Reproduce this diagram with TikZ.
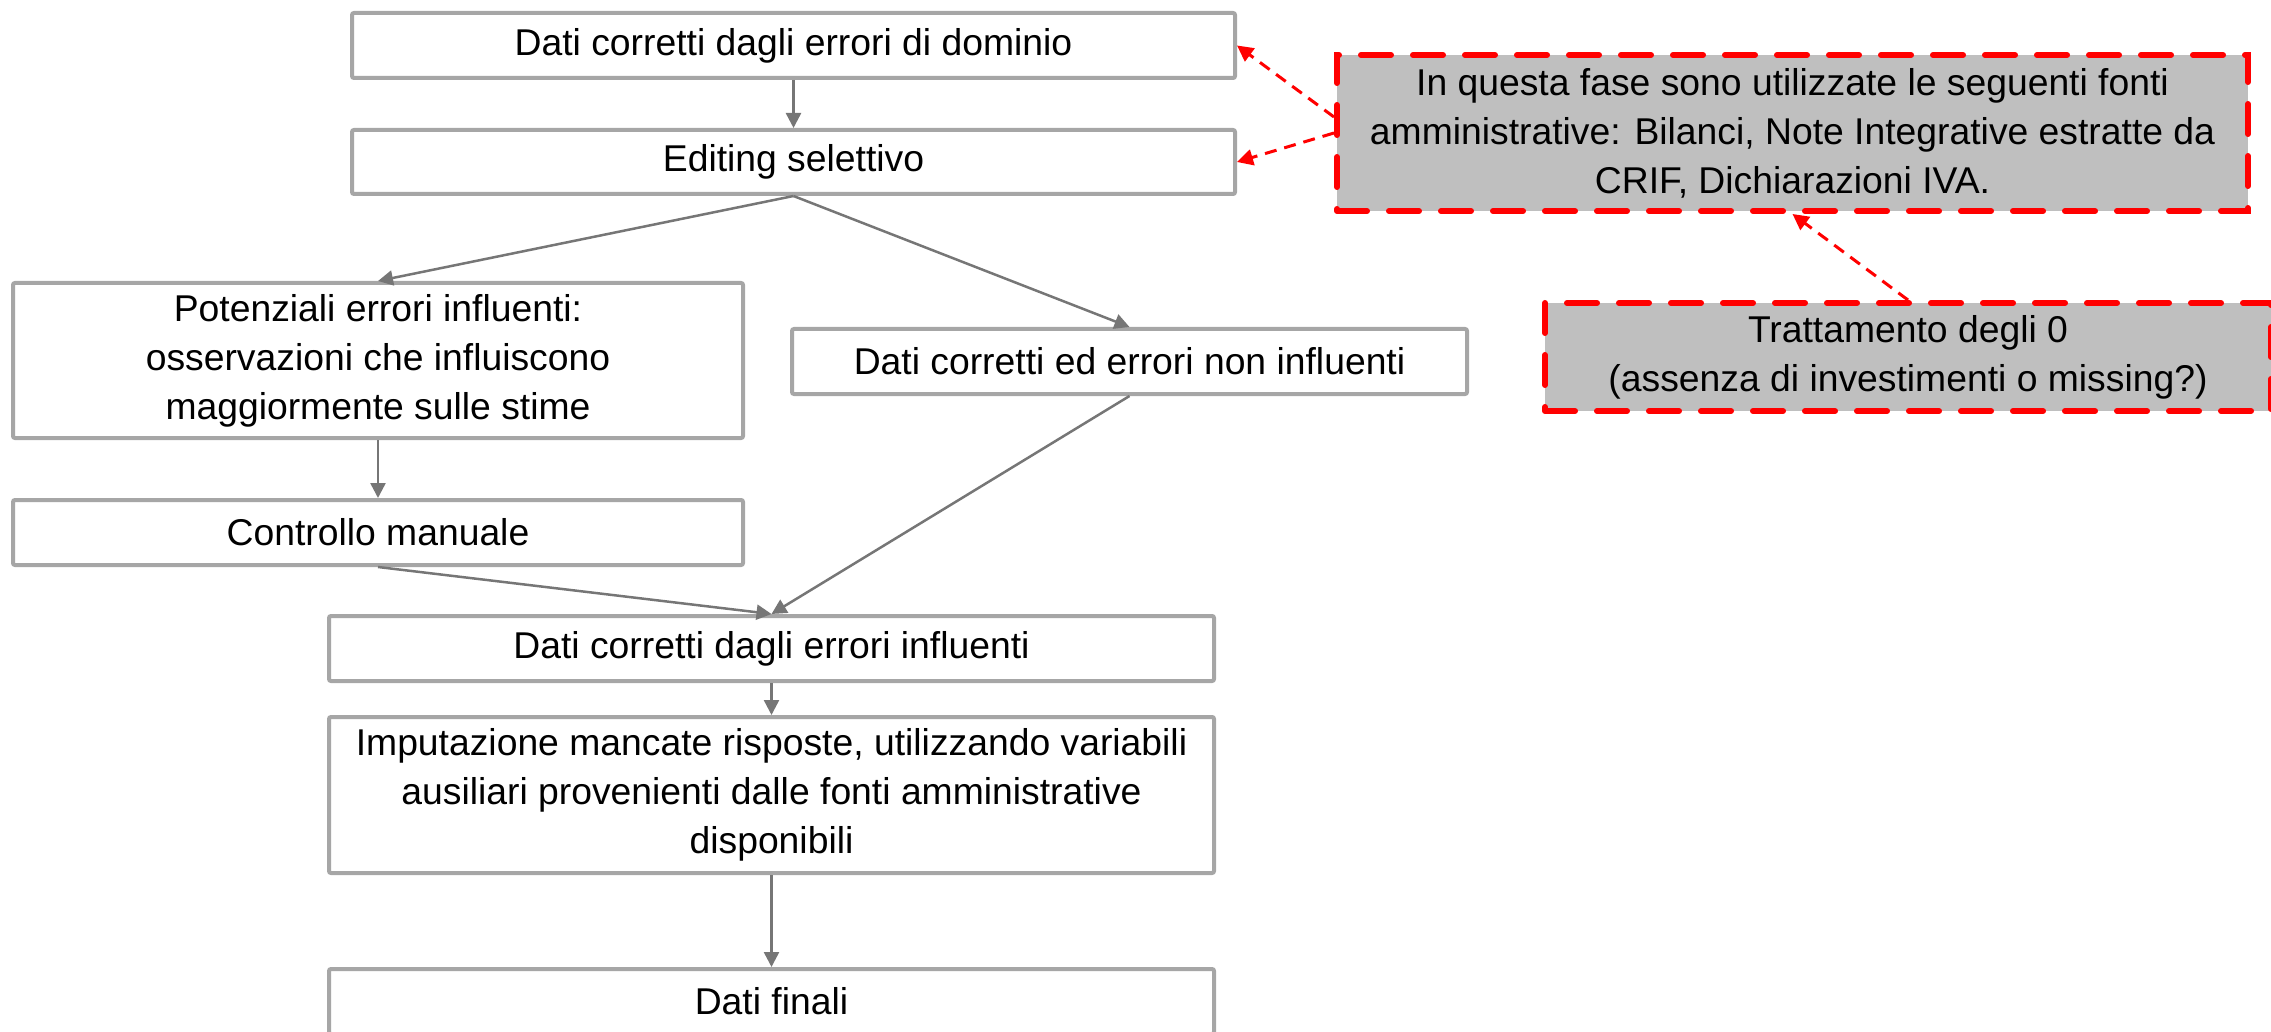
\documentclass[tikz,border=0pt]{standalone}
\usepackage{fontspec}
\setmainfont{Liberation Sans}
\usetikzlibrary{arrows.meta}
\definecolor{boxgray}{RGB}{166,166,166}
\definecolor{arrowgray}{RGB}{118,118,118}
\definecolor{notefill}{RGB}{191,191,191}
\begin{document}
\begin{tikzpicture}[x=1pt,y=-1pt,
        font=\fontsize{18.65pt}{24.5pt}\selectfont,
        box/.style={draw=boxgray,line width=2pt,rounded corners=1pt,fill=white,inner sep=0pt,align=center},
        note/.style={draw=red,fill=notefill,line width=3pt,dash pattern=on 15pt off 11pt,line cap=round,inner sep=0pt,align=center},
        flow/.style={draw=arrowgray,line width=1.25pt,-{Triangle[length=7.5pt,width=7.5pt]}},
        link/.style={draw=red,line width=1.5pt,dash pattern=on 6pt off 4pt,-{Triangle[length=8pt,width=8pt]}}]
        \useasboundingbox (0,0) rectangle (1135.5,516);
        %Shape: flow boxes
        \node [box,minimum width=441.5pt,minimum height=32.5pt] (dom) at (396.75,22.75) {Dati corretti dagli errori di dominio};
        \node [box,minimum width=441.5pt,minimum height=32pt] (edit) at (396.75,81) {Editing selettivo};
        \node [box,minimum width=365pt,minimum height=77.5pt] (pot) at (189,180.25) {Potenziali errori influenti:\\osservazioni che influiscono\\maggiormente sulle stime};
        \node [box,minimum width=337.5pt,minimum height=32.5pt] (ninf) at (564.75,180.75) {Dati corretti ed errori non influenti};
        \node [box,minimum width=365pt,minimum height=32.5pt] (man) at (189,266.25) {Controllo manuale};
        \node [box,minimum width=442.5pt,minimum height=32.5pt] (inf) at (385.75,324.25) {Dati corretti dagli errori influenti};
        \node [box,minimum width=442.5pt,minimum height=78pt] (imp) at (385.75,397.5) {Imputazione mancate risposte, utilizzando variabili\\ausiliari provenienti dalle fonti amministrative\\disponibili};
        \node [box,minimum width=442.5pt,minimum height=32.5pt] (fin) at (385.75,500.75) {Dati finali};
        %Shape: notes
        \node [note,minimum width=455.5pt,minimum height=78pt] (fonti) at (896.25,66.5) {In questa fase sono utilizzate le seguenti fonti\\amministrative: Bilanci, Note Integrative estratte da\\CRIF, Dichiarazioni IVA.};
        \node [note,minimum width=363pt,minimum height=54pt] (zero) at (954,178.5) {Trattamento degli 0\\(assenza di investimenti o missing?)};
        
        % Connectors
        \draw [flow] (dom.south) -- (edit.north);
        \draw [flow] (edit.south) -- (pot.north);
        \draw [flow] (edit.south) -- (ninf.north);
        \draw [flow] (pot.south) -- (man.north);
        \draw [flow] (man.south) -- (inf.north);
        \draw [flow] (ninf.south) -- (inf.north);
        \draw [flow] (inf.south) -- (imp.north);
        \draw [flow] (imp.south) -- (fin.north);
        \draw [link] ([yshift=8pt]fonti.west) -- (dom.east);
        \draw [link] (fonti.west) -- (edit.east);
        \draw [link] (zero.north) -- (fonti.south);
    \end{tikzpicture}
\end{document}
